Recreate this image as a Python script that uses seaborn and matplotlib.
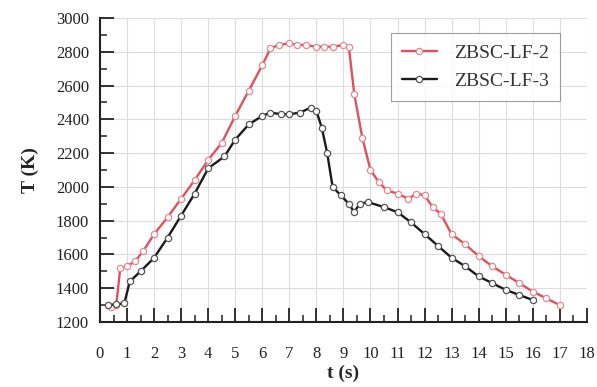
import matplotlib
matplotlib.use("Agg")
import matplotlib.pyplot as plt
from matplotlib.ticker import MultipleLocator
import seaborn as sns
import pandas as pd

t_lf2 = [0.4, 0.6, 0.75, 1.0, 1.3, 1.6, 2.0, 2.5, 3.0, 3.5, 4.0, 4.5, 5.0, 5.5, 6.0, 6.3, 6.6,
         7.0, 7.3, 7.6, 8.0, 8.3, 8.6, 9.0, 9.2, 9.4, 9.7, 10.0, 10.3, 10.6, 11.0, 11.4, 11.7,
         12.0, 12.3, 12.6, 13.0, 13.5, 14.0, 14.5, 15.0, 15.5, 16.0, 16.5, 17.0]
T_lf2 = [1290, 1300, 1520, 1530, 1560, 1620, 1720, 1820, 1930, 2040, 2160, 2260, 2420, 2570,
         2720, 2820, 2840, 2850, 2840, 2840, 2830, 2830, 2830, 2840, 2830, 2550, 2290, 2100,
         2030, 1980, 1960, 1930, 1960, 1950, 1880, 1840, 1720, 1660, 1590, 1530, 1480, 1430,
         1380, 1340, 1300]

t_lf3 = [0.3, 0.6, 0.9, 1.1, 1.5, 2.0, 2.5, 3.0, 3.5, 4.0, 4.6, 5.0, 5.5, 6.0, 6.3, 6.7,
         7.0, 7.4, 7.8, 8.0, 8.2, 8.4, 8.6, 8.9, 9.2, 9.4, 9.6, 9.9, 10.5, 11.0, 11.5, 12.0,
         12.5, 13.0, 13.5, 14.0, 14.5, 15.0, 15.5, 16.0]
T_lf3 = [1300, 1305, 1310, 1440, 1500, 1580, 1700, 1830, 1960, 2110, 2180, 2280, 2370, 2420,
         2440, 2430, 2430, 2440, 2470, 2450, 2350, 2200, 2000, 1950, 1900, 1850, 1900, 1910,
         1880, 1850, 1790, 1720, 1650, 1580, 1530, 1470, 1430, 1390, 1360, 1330]

labels = ["ZBSC-LF-2", "ZBSC-LF-3"]
x_ticks = list(range(0, 19))
y_ticks = list(range(1200, 3001, 200))

df = pd.concat([
    pd.DataFrame({"t": t_lf2, "T": T_lf2, "series": labels[0]}),
    pd.DataFrame({"t": t_lf3, "T": T_lf3, "series": labels[1]}),
])

sns.set_style("white")
plt.rcParams["font.family"] = ["Liberation Serif", "DejaVu Serif"]

fig = plt.figure(figsize=(5.97, 3.87), dpi=100)
ax = fig.add_axes([0.1675, 0.168, 0.8155, 0.7855])

colors = {labels[0]: "#e0505f", labels[1]: "#1a1a1a"}
edges = {labels[0]: "#e88890", labels[1]: "#555555"}
for lab in labels:
    sub = df[df["series"] == lab]
    sns.lineplot(data=sub, x="t", y="T", ax=ax, color=colors[lab], lw=1.7,
                 marker="o", markersize=4.5, markerfacecolor="white",
                 markeredgecolor=edges[lab], markeredgewidth=0.9, label=lab,
                 sort=False, estimator=None)

ax.set_xlim(0, 18)
ax.set_ylim(1200, 3000)
ax.set_xticks(x_ticks)
ax.set_yticks(y_ticks)
ax.xaxis.set_minor_locator(MultipleLocator(0.5))
ax.yaxis.set_minor_locator(MultipleLocator(100))
ax.grid(True, which="major", color="#dddddd", lw=0.8)
ax.set_axisbelow(True)
ax.tick_params(axis="both", which="major", direction="in", length=10, width=1.3,
               labelsize=12, colors="#222222", bottom=True, left=True)
ax.tick_params(axis="both", which="minor", direction="in", length=5, width=1.1,
               bottom=True, left=True, colors="#222222")
ax.tick_params(axis="x", which="major", pad=17)
ax.tick_params(axis="y", which="major", pad=8)
for s in ["top", "right"]:
    ax.spines[s].set_visible(False)
for s in ["left", "bottom"]:
    ax.spines[s].set_color("#222222")
    ax.spines[s].set_linewidth(1.5)

ax.set_xlabel("t (s)", fontsize=14, fontweight="bold", labelpad=2)
ax.set_ylabel("T (K)", fontsize=14, fontweight="bold", labelpad=12)

leg = ax.legend(loc="upper right", bbox_to_anchor=(0.945, 0.95), borderaxespad=0,
                fontsize=14, frameon=True, fancybox=False, edgecolor="#888888",
                handlelength=1.8, handletextpad=0.9, borderpad=0.55, labelspacing=0.55)
leg.get_frame().set_linewidth(0.8)
for txt in leg.get_texts():
    txt.set_color("#333333")

fig.savefig("out.png", dpi=100)
